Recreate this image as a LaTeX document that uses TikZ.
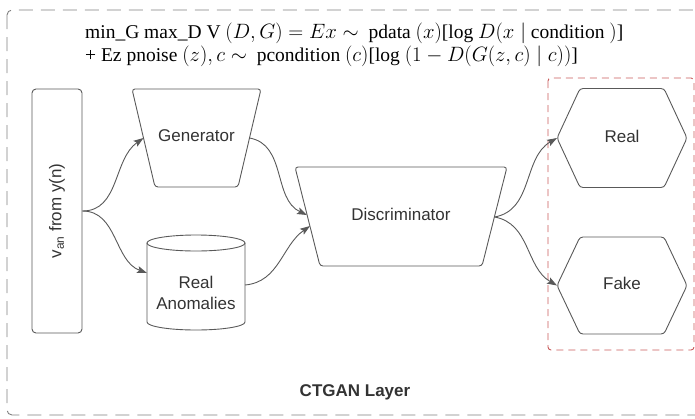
\documentclass[tikz,border=0pt]{standalone}
\usepackage{fontspec}
\setmainfont{Liberation Serif}
\setsansfont{Liberation Sans}
\usepackage{xcolor}
\usetikzlibrary{arrows.meta,positioning}
\definecolor{lineg}{HTML}{595959}
\definecolor{textg}{HTML}{333333}
\definecolor{boxred}{HTML}{C85A5A}
\tikzset{
	outline/.style={draw=lineg, line width=0.9pt, rounded corners=3pt},
	label/.style={text=textg, font=\sffamily\fontsize{17}{21}\selectfont, align=center},
	eqline/.style={anchor=base west, align=left, text=black, font=\fontsize{19.5}{23}\selectfont, inner sep=0pt},
	flow/.style={draw=lineg, line width=0.9pt, arrows={-Stealth[length=10pt, width=7pt, inset=2pt]}},
	outerbox/.style={draw=gray, line width=0.9pt, dash pattern=on 14pt off 8pt, rounded corners=5pt},
	redbox/.style={draw=boxred, line width=0.9pt, dash pattern=on 7pt off 5pt, rounded corners=3pt}
}

\begin{document}
\begin{tikzpicture}[x=1pt, y=-1pt]
			\useasboundingbox (0,0) rectangle (695,418);
			\begin{scope}
				\clip (0,0) rectangle (695,418);
				\draw[outerbox] (7,10) rectangle (710,415);
			\end{scope}
			\draw[redbox] (548,78) rectangle (694,350);
			
			% loss of the conditional GAN
			\node[eqline] (loss1) at (85,38)
				{min\_G max\_D V $(D, G) = Ex \sim$ \ pdata $(x)$[log $D(x\mid$ condition $)$]};
			\node[eqline] (loss2) at (85,61)
				{+ Ez pnoise $(z), c \sim$ \ pcondition $(c)$[log $(1 - D(G(z, c) \mid c))$]};
			
			% input column
			\node[draw=lineg, line width=0.9pt, rounded corners=4pt, minimum width=50, minimum height=244] (van) at (57,211) {};
			\node[label, rotate=90] (vanlabel) at (57,211) {v\textsubscript{an} from y(n)};
			
			% generator
			\draw[outline] (132,89) -- (261,89) -- (238,187) -- (155,187) -- cycle;
			\node[label] (gen) at (196.5,136) {Generator};
			\coordinate (gen-in) at (143.5,138);
			\coordinate (gen-out) at (249.5,138);
			
			% real anomalies store
			\draw[draw=lineg, line width=0.9pt] (196,243) ellipse (49 and 8);
			\draw[draw=lineg, line width=0.9pt] (147,243) -- (147,322) arc[start angle=180, end angle=0, x radius=49, y radius=8] -- (245,243);
			\node[label] (cyl) at (196,293) {Real\\Anomalies};
			\coordinate (cyl-in) at (147,273);
			\coordinate (cyl-out) at (245,285);
			
			% discriminator
			\draw[outline] (295,167) -- (507,167) -- (482,266) -- (320,266) -- cycle;
			\node[label] (disc) at (401,214) {Discriminator};
			\coordinate (disc-in1) at (307,215);
			\coordinate (disc-in2) at (310,226);
			\coordinate (disc-out) at (494.5,217);
			
			% outputs
			\draw[outline] (557,138) -- (580,88.5) -- (664,88.5) -- (687,138) -- (664,187.5) -- (580,187.5) -- cycle;
			\node[label] (real) at (622,136) {Real};
			\coordinate (real-in) at (557,138);
			\draw[outline] (557,285.5) -- (580,237) -- (664,237) -- (687,285.5) -- (664,334) -- (580,334) -- cycle;
			\node[label] (fake) at (622,283) {Fake};
			\coordinate (fake-in) at (557,285.5);
			
			\draw[flow] (van.east) to[out=0, in=215] (gen-in);
			\draw[flow] (van.east) to[out=0, in=160] (cyl-in);
			\draw[flow] (gen-out) to[out=-10, in=155] (disc-in1);
			\draw[flow] (cyl-out) to[out=5, in=215] (disc-in2);
			\draw[flow] (disc-out) to[out=10, in=210] (real-in);
			\draw[flow] (disc-out) to[out=-10, in=150] (fake-in);
			
			\node[text=textg, font=\sffamily\bfseries\fontsize{17}{20}\selectfont] (layer) at (355,392) {CTGAN Layer};
		\end{tikzpicture}
\end{document}
